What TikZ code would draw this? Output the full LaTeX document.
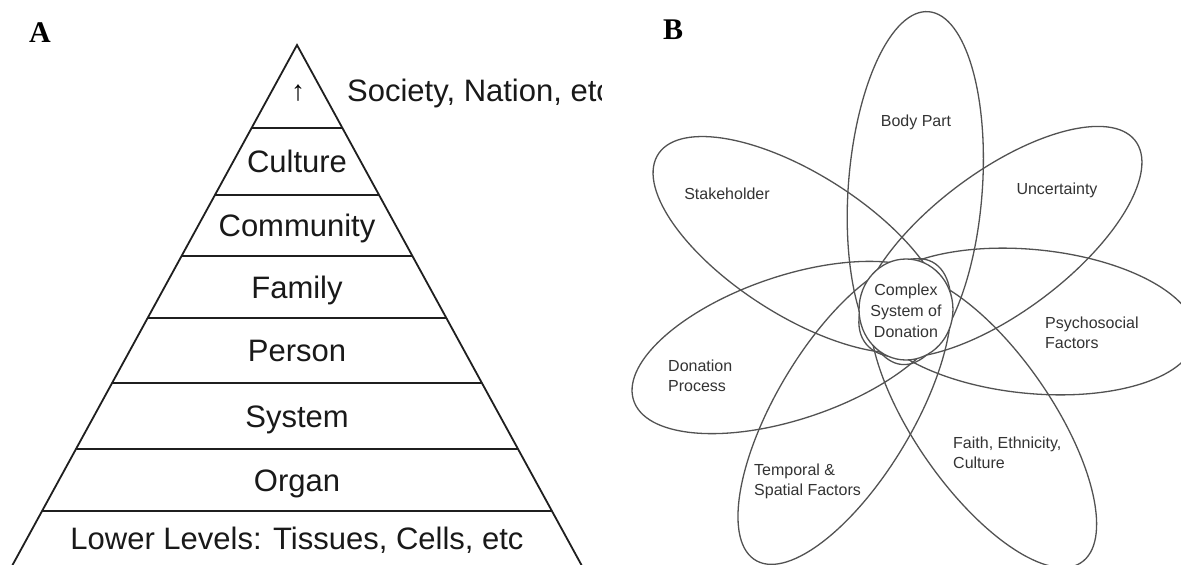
\documentclass[tikz,border=0pt]{standalone}
\usepackage{fontspec}
\setmainfont{Liberation Sans}
\newfontfamily\serifbold{Liberation Serif}
\begin{document}
\begin{tikzpicture}[x=1pt,y=-1pt,
  pyr/.style={line width=1.8pt, draw=black!88},
  petal/.style={line width=1.3pt, draw=black!68},
  bigtxt/.style={font=\fontsize{31}{37}\selectfont, text=black!90, inner sep=0pt},
  smalltxt/.style={font=\fontsize{16}{20}\selectfont, text=black!80, inner sep=0pt, align=left},
  panellabel/.style={font=\fontsize{30}{32}\selectfont\serifbold\bfseries, inner sep=0pt}]
\fill[white] (0,0) rectangle (1181,565);
\useasboundingbox (0,0) rectangle (1181,565);
\clip (0,0) rectangle (1181,565);

% ---------- Panel A ----------
\node[panellabel] (labA) at (40,33) {A};
\begin{scope}
  \clip (0,0) rectangle (601,565);
  \coordinate (apex) at (297,45);
  \coordinate (bl) at (9.8,570);
  \coordinate (br) at (584.2,570);
  \draw[pyr, line join=miter] (bl) -- (apex) -- (br);
  \foreach \yy in {128,195,256,318,383,449,511}
    \draw[pyr] ({297-0.547*(\yy-45)},\yy) -- ({297+0.547*(\yy-45)},\yy);
  \node[font=\fontsize{28}{30}\selectfont, inner sep=0pt] (arrow) at (298,93) {↑};
  \node[bigtxt, anchor=base west] (society) at (347,101) {Society, Nation, etc};
  \node[bigtxt, anchor=base] (culture) at (297,172.5) {Culture};
  \node[bigtxt, anchor=base] (community) at (297,236.5) {Community};
  \node[bigtxt, anchor=base] (family) at (297,298) {Family};
  \node[bigtxt, anchor=base] (person) at (297,361.5) {Person};
  \node[bigtxt, anchor=base] (system) at (297,427) {System};
  \node[bigtxt, anchor=base] (organ) at (297,491) {Organ};
  \node[bigtxt, anchor=base] (lower) at (297,549) {Lower Levels: Tissues, Cells, etc};
\end{scope}

% ---------- Panel B ----------
\node[panellabel] (labB) at (673,30) {B};
\begin{scope}[shift={(906,309.5)}, xscale=0.93]
  \draw[petal, rotate around={85.3:(10,-121.4)}] (10,-121.4) ellipse [x radius=177, y radius=72];
  \draw[petal, rotate around={34:(101.5,-67.5)}] (101.5,-67.5) ellipse [x radius=177, y radius=72];
  \draw[petal, rotate around={-5:(135,12)}] (135,12) ellipse [x radius=177, y radius=72];
  \draw[petal, rotate around={-52.5:(83,111)}] (83,111) ellipse [x radius=177, y radius=72];
  \draw[petal, rotate around={56.5:(-66,102)}] (-66,102) ellipse [x radius=177, y radius=72];
  \draw[petal, rotate around={17:(-124,38)}] (-124,38) ellipse [x radius=177, y radius=72];
  \draw[petal, rotate around={-30:(-114.5,-64.7)}] (-114.5,-64.7) ellipse [x radius=177, y radius=72];
  \draw[petal, fill=white] (0,0) circle [radius=50.5];
\end{scope}

\node[smalltxt, anchor=base] (body) at (916,126.7) {Body Part};
\node[smalltxt, anchor=base] (stake) at (727,199.7) {Stakeholder};
\node[smalltxt, anchor=base] (unc) at (1057,194.7) {Uncertainty};
\node[smalltxt, anchor=west] (psy) at (1045,332.9) {Psychosocial\\Factors};
\node[smalltxt, anchor=west] (don) at (668,375.9) {Donation\\Process};
\node[smalltxt, anchor=west] (temp) at (754,481.5) {Temporal \&\\Spatial Factors};
\node[smalltxt, anchor=west] (faith) at (953,452.9) {Faith, Ethnicity,\\Culture};
\node[smalltxt, align=center, font=\fontsize{16}{21}\selectfont] (core) at (906,310.9) {Complex\\System of\\Donation};
\end{tikzpicture}
\end{document}
